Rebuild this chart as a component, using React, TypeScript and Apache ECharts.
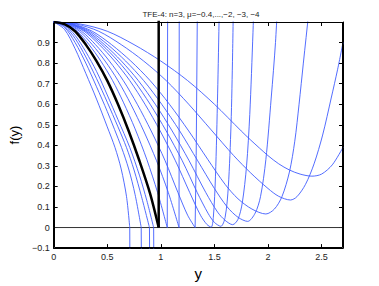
import React, { useEffect, useRef } from "react";
import * as echarts from "echarts";

type P = [number, number];

const titleText = "TFE-4: n=3, \u03bc=\u22120.4,...,\u22122, \u22123, \u22124";
const xTicks = [0, 0.5, 1, 1.5, 2, 2.5];
const yTicks = [-0.1, 0, 0.1, 0.2, 0.3, 0.4, 0.5, 0.6, 0.7, 0.8, 0.9];
const xRange: P = [0, 2.7];
const yRange: P = [-0.1, 1];

// black reference curve and its vertical branch
const blackCurve: P[] = [[0, 1], [0.1, 0.99], [0.2, 0.955], [0.3, 0.89], [0.4, 0.81], [0.5, 0.715], [0.6, 0.6], [0.7, 0.47], [0.8, 0.325], [0.9, 0.165], [0.98, 0]];
const blackBranch: P[] = [[0.98, 0], [0.98, 1.2]];

// curves that cross zero and drop away
const c15: P[] = [[0, 1], [0.1, 0.965], [0.2, 0.87], [0.3, 0.75], [0.4, 0.625], [0.5, 0.49], [0.572, 0.39], [0.63, 0.285], [0.68, 0.15], [0.71, 0]];
const c15Branch: P[] = [[0.71, 0], [0.712, -0.3]];
const c14: P[] = [[0, 1], [0.1, 0.975], [0.2, 0.9], [0.3, 0.8], [0.4, 0.685], [0.5, 0.565], [0.633, 0.39], [0.7, 0.285], [0.76, 0.16], [0.817, 0]];
const c14Branch: P[] = [[0.817, 0], [0.82, -0.3]];
const c13: P[] = [[0, 1], [0.1, 0.98], [0.2, 0.92], [0.3, 0.83], [0.4, 0.725], [0.5, 0.61], [0.6, 0.49], [0.679, 0.39], [0.75, 0.28], [0.82, 0.15], [0.894, 0]];
const c13Branch: P[] = [[0.894, 0], [0.897, -0.3]];
const c12: P[] = [[0, 1], [0.1, 0.985], [0.2, 0.935], [0.3, 0.855], [0.4, 0.76], [0.5, 0.645], [0.6, 0.525], [0.71, 0.39], [0.8, 0.255], [0.87, 0.13], [0.933, 0]];
const c12Branch: P[] = [[0.933, 0], [0.936, -0.3]];

// curves that touch zero and shoot up
const c10: P[] = [[0, 1], [0.11, 0.99], [0.22, 0.955], [0.33, 0.89], [0.44, 0.81], [0.55, 0.715], [0.65, 0.61], [0.76, 0.48], [0.87, 0.33], [0.97, 0.17], [1.06, 0]];
const c10Branch: P[] = [[1.06, 0], [1.064, 1.2]];
const c9: P[] = [[0, 1], [0.12, 0.99], [0.24, 0.955], [0.36, 0.89], [0.48, 0.81], [0.6, 0.715], [0.72, 0.6], [0.84, 0.47], [0.96, 0.325], [1.07, 0.17], [1.17, 0]];
const c9Branch: P[] = [[1.17, 0], [1.172, 1.2]];
const c8: P[] = [[0, 1], [0.13, 0.99], [0.26, 0.955], [0.39, 0.89], [0.52, 0.81], [0.65, 0.715], [0.78, 0.6], [0.91, 0.47], [1.04, 0.325], [1.16, 0.17], [1.25, 0.06], [1.32, 0]];
const c8Branch: P[] = [[1.32, 0], [1.33, 0.35], [1.34, 1.0], [1.345, 1.2]];

// curves with a rounded minimum
const c7: P[] = [[0, 1], [0.142, 0.99], [0.284, 0.955], [0.426, 0.89], [0.568, 0.81], [0.71, 0.715], [0.852, 0.6], [0.994, 0.47], [1.136, 0.325], [1.27, 0.17], [1.37, 0.06], [1.43, 0.015], [1.47, 0.002], [1.49, 0.05], [1.51, 0.25], [1.53, 0.65], [1.545, 1.05], [1.55, 1.2]];
const c6: P[] = [[0, 1], [0.15, 0.99], [0.3, 0.955], [0.45, 0.89], [0.6, 0.81], [0.75, 0.715], [0.9, 0.6], [1.05, 0.47], [1.2, 0.325], [1.34, 0.17], [1.44, 0.07], [1.5, 0.025], [1.56, 0.006], [1.6, 0.05], [1.63, 0.2], [1.655, 0.5], [1.67, 0.85], [1.68, 1.2]];
const c5: P[] = [[0, 1], [0.158, 0.99], [0.316, 0.955], [0.474, 0.89], [0.632, 0.81], [0.79, 0.715], [0.948, 0.6], [1.106, 0.47], [1.264, 0.325], [1.42, 0.17], [1.53, 0.075], [1.6, 0.035], [1.67, 0.014], [1.72, 0.04], [1.76, 0.12], [1.8, 0.3], [1.83, 0.55], [1.86, 0.95], [1.875, 1.2]];
const c4: P[] = [[0, 1], [0.168, 0.99], [0.336, 0.955], [0.504, 0.89], [0.672, 0.81], [0.84, 0.715], [1.008, 0.6], [1.176, 0.47], [1.344, 0.325], [1.5, 0.19], [1.62, 0.1], [1.72, 0.05], [1.81, 0.03], [1.88, 0.07], [1.93, 0.15], [1.98, 0.33], [2.03, 0.63], [2.07, 0.9], [2.1, 1.2]];
const c3: P[] = [[0, 1], [0.18, 0.99], [0.36, 0.955], [0.54, 0.89], [0.72, 0.81], [0.9, 0.715], [1.08, 0.6], [1.26, 0.47], [1.44, 0.33], [1.6, 0.21], [1.72, 0.14], [1.85, 0.09], [1.98, 0.066], [2.06, 0.09], [2.13, 0.15], [2.2, 0.27], [2.25, 0.42], [2.29, 0.6], [2.33, 0.8], [2.38, 1.05], [2.4, 1.2]];
const c2: P[] = [[0, 1], [0.21, 0.99], [0.42, 0.955], [0.63, 0.89], [0.84, 0.81], [1.05, 0.715], [1.26, 0.6], [1.47, 0.475], [1.68, 0.35], [1.84, 0.265], [2.0, 0.19], [2.1, 0.152], [2.21, 0.134], [2.27, 0.15], [2.35, 0.21], [2.43, 0.31], [2.51, 0.45], [2.59, 0.63], [2.65, 0.77], [2.7, 0.9]];
const c1: P[] = [[0, 1], [0.25, 0.99], [0.5, 0.955], [0.75, 0.89], [1.0, 0.81], [1.25, 0.715], [1.5, 0.6], [1.75, 0.47], [1.84, 0.425], [2.0, 0.35], [2.1, 0.31], [2.2, 0.28], [2.3, 0.26], [2.41, 0.25], [2.5, 0.26], [2.6, 0.305], [2.7, 0.39]];

const smoothCurves: P[][] = [c1, c2, c3, c4, c5, c6, c7, c8, c9, c10, c12, c13, c14, c15];
const straightBranches: P[][] = [c8Branch, c9Branch, c10Branch, c12Branch, c13Branch, c14Branch, c15Branch];
const zeroLine: P[] = [[0, 0], [2.7, 0]];

const FONT = "'Liberation Sans', Arial, Helvetica, sans-serif";
const BLUE = "#3f5cff";

export default function App() {
  const ref = useRef<HTMLDivElement>(null);
  useEffect(() => {
    if (!ref.current) return;
    const chart = echarts.init(ref.current, undefined, { renderer: "svg" });
    const near = (v: number, arr: number[]) => arr.some((t) => Math.abs(t - v) < 1e-6);
    const fmt = (v: number) => {
      const r = Math.round(v * 10) / 10;
      return r < 0 ? "\u2212" + String(-r) : String(r);
    };
    const axisLine = { show: true, onZero: false, lineStyle: { color: "#000", width: 1 } };
    const tick = { show: true, inside: true, length: 4, lineStyle: { color: "#000", width: 1 } };
    const lineSeries = (d: P[], color: string, width: number, smooth: number | boolean, z: number) => ({
      type: "line", data: d, showSymbol: false, silent: true, clip: true, smooth,
      lineStyle: { color, width }, z,
    });
    const option: any = {
      animation: false,
      title: {
        text: titleText,
        left: 196,
        top: 5,
        textAlign: "center",
        textStyle: { fontSize: 8, fontWeight: "normal", color: "#222", fontFamily: FONT },
      },
      grid: { left: 49, right: 36, top: 22, bottom: 33, containLabel: false },
      xAxis: [
        {
          type: "value", min: xRange[0], max: xRange[1], interval: 0.5, position: "bottom",
          axisLine, axisTick: tick, splitLine: { show: false },
          axisLabel: { fontSize: 9, color: "#222", fontFamily: FONT, margin: 4,
            formatter: (v: number) => (near(v, xTicks) ? fmt(v) : "") },
          name: "y", nameLocation: "middle", nameGap: 12,
          nameTextStyle: { fontSize: 15, color: "#000", fontFamily: FONT },
        },
        {
          type: "value", min: xRange[0], max: xRange[1], interval: 0.5, position: "top",
          axisLine, axisTick: tick, splitLine: { show: false }, axisLabel: { show: false },
        },
      ],
      yAxis: [
        {
          type: "value", min: yRange[0], max: yRange[1], interval: 0.1, position: "left",
          axisLine, axisTick: tick, splitLine: { show: false },
          axisLabel: { fontSize: 9, color: "#222", fontFamily: FONT, margin: 4,
            formatter: (v: number) => (near(v, yTicks) ? fmt(v) : "") },
          name: "f(y)", nameLocation: "middle", nameGap: 24, nameRotate: 90,
          nameTextStyle: { fontSize: 13, color: "#000", fontFamily: FONT },
        },
        {
          type: "value", min: yRange[0], max: yRange[1], interval: 0.1, position: "right",
          axisLine, axisTick: tick, splitLine: { show: false }, axisLabel: { show: false },
        },
      ],
      series: [
        lineSeries(zeroLine, "#333", 1, false, 1),
        ...smoothCurves.map((d) => lineSeries(d, BLUE, 0.9, 0.3, 2)),
        ...straightBranches.map((d) => lineSeries(d, BLUE, 0.9, false, 2)),
        lineSeries(blackCurve, "#000", 2.5, 0.3, 3),
        lineSeries(blackBranch, "#000", 2.5, false, 3),
      ],
    };
    chart.setOption(option);
    // crisp frame around the plot area, placed through the axes' own scales
    const tl = chart.convertToPixel({ gridIndex: 0 }, [xRange[0], yRange[1]]) as number[];
    const br = chart.convertToPixel({ gridIndex: 0 }, [xRange[1], yRange[0]]) as number[];
    const x0 = Math.round(tl[0]) + 0.5;
    const y0 = Math.round(tl[1]) + 0.5;
    const x1 = Math.round(br[0]) - 0.5;
    const y1 = Math.round(br[1]) - 0.5;
    const edge = (a: number, b: number, c: number, d: number) => ({
      type: "line", silent: true, z: 100,
      shape: { x1: a, y1: b, x2: c, y2: d },
      style: { stroke: "#000", lineWidth: 1 },
    });
    chart.setOption({
      graphic: [edge(x0, y0, x1, y0), edge(x1, y0, x1, y1), edge(x0, y1, x1, y1), edge(x0, y0, x0, y1)],
    });
    return () => chart.dispose();
  }, []);
  return (
    <div
      ref={ref}
      style={{ position: "fixed", left: 0, top: 0, width: 379, height: 286, background: "#fff" }}
    />
  );
}
